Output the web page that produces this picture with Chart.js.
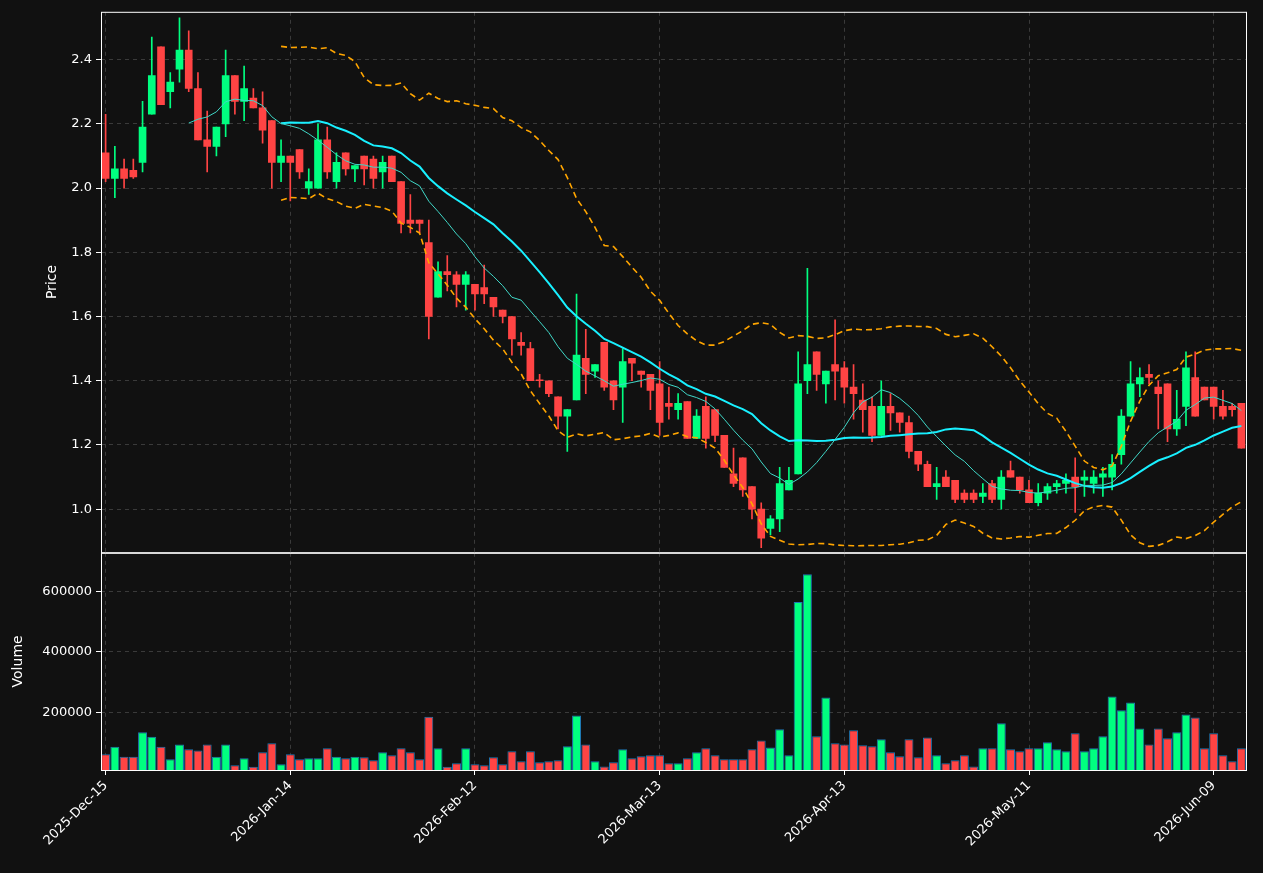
<!DOCTYPE html>
<html>
<head>
<meta charset="utf-8">
<script src="https://cdn.jsdelivr.net/npm/chart.js@4/dist/chart.umd.min.js"></script>
<style>
  html, body { margin: 0; background: #111111; }
  #wrap { position: relative; width: 1263px; height: 873px; }
  #priceBox { position: absolute; left: 0; top: 0; width: 1263px; height: 564px; }
  #volBox { position: absolute; left: 0; top: 541px; width: 1263px; height: 332px; }
</style>
</head>
<body>
<div id="wrap">
  <div id="priceBox"><canvas id="priceChart"></canvas></div>
  <div id="volBox"><canvas id="volChart"></canvas></div>
</div>
<script>
/* ================= DATA ================= */
const tickLabels = ['2025-Dec-15', '2026-Jan-14', '2026-Feb-12', '2026-Mar-13', '2026-Apr-13', '2026-May-11', '2026-Jun-09'];

const opens = [2.11,2.03,2.06,2.055,2.08,2.23,2.44,2.30,2.37,2.43, 2.31,2.15,2.13,2.20,2.35,2.27,2.28,2.25,2.21,2.08,
  2.10,2.12,2.00,2.00,2.15,2.02,2.11,2.06,2.10,2.09, 2.05,2.10,2.02,1.90,1.90,1.83,1.66,1.74,1.73,1.70,
  1.70,1.69,1.66,1.62,1.60,1.52,1.50,1.402,1.40,1.35, 1.29,1.34,1.47,1.43,1.52,1.40,1.38,1.47,1.43,1.42,
  1.39,1.33,1.31,1.335,1.22,1.32,1.31,1.23,1.11,1.16, 1.07,1.00,0.94,0.97,1.06,1.11,1.40,1.49,1.39,1.45,
  1.44,1.38,1.34,1.32,1.23,1.32,1.30,1.27,1.18,1.14, 1.07,1.10,1.09,1.05,1.05,1.04,1.08,1.03,1.12,1.10,
  1.06,1.02,1.05,1.07,1.08,1.10,1.09,1.08,1.10,1.10, 1.17,1.29,1.39,1.42,1.38,1.39,1.25,1.32,1.41,1.38,
  1.38,1.32,1.32,1.33];
const highs = [2.23,2.13,2.09,2.09,2.27,2.47,2.44,2.36,2.53,2.49, 2.36,2.24,2.19,2.43,2.35,2.38,2.31,2.30,2.21,2.15,
  2.10,2.12,2.06,2.20,2.19,2.11,2.11,2.07,2.10,2.10, 2.10,2.10,2.02,1.98,1.90,1.90,1.77,1.79,1.74,1.74,
  1.70,1.76,1.66,1.62,1.60,1.55,1.52,1.42,1.40,1.35, 1.31,1.67,1.56,1.45,1.52,1.40,1.50,1.47,1.43,1.42,
  1.46,1.38,1.36,1.335,1.31,1.35,1.31,1.23,1.19,1.16, 1.07,1.02,0.98,1.13,1.13,1.49,1.75,1.49,1.43,1.59,
  1.46,1.45,1.39,1.35,1.40,1.36,1.30,1.29,1.18,1.15, 1.13,1.12,1.09,1.06,1.06,1.08,1.09,1.12,1.15,1.10,
  1.09,1.08,1.08,1.09,1.11,1.16,1.12,1.12,1.13,1.17, 1.31,1.46,1.44,1.45,1.40,1.39,1.37,1.49,1.49,1.38,
  1.38,1.37,1.33,1.33];
const lows = [2.02,1.97,2.00,2.03,2.05,2.23,2.26,2.25,2.33,2.30, 2.15,2.05,2.10,2.16,2.23,2.21,2.25,2.14,2.00,2.02,
  1.96,2.03,1.98,2.00,2.03,2.00,2.04,2.02,2.01,2.00, 2.00,2.02,1.86,1.86,1.86,1.53,1.66,1.68,1.63,1.62,
  1.62,1.64,1.60,1.58,1.48,1.48,1.40,1.38,1.35,1.25, 1.18,1.34,1.36,1.41,1.37,1.31,1.27,1.40,1.38,1.31,
  1.23,1.28,1.28,1.22,1.22,1.19,1.21,1.13,1.07,1.04, 0.97,0.88,0.92,0.93,1.06,1.11,1.36,1.37,1.33,1.34,
  1.33,1.28,1.24,1.21,1.23,1.245,1.24,1.16,1.12,1.07, 1.03,1.07,1.02,1.02,1.02,1.02,1.02,1.00,1.10,1.05,
  1.02,1.01,1.03,1.05,1.05,0.99,1.04,1.05,1.04,1.06, 1.14,1.29,1.35,1.39,1.25,1.21,1.23,1.26,1.29,1.34,
  1.28,1.28,1.29,1.19];
const closes = [2.03,2.06,2.03,2.035,2.19,2.35,2.26,2.33,2.43,2.31, 2.15,2.13,2.19,2.35,2.27,2.31,2.25,2.18,2.08,2.10,
  2.08,2.05,2.02,2.15,2.05,2.08,2.06,2.07,2.06,2.03, 2.08,2.02,1.89,1.89,1.89,1.60,1.74,1.73,1.70,1.73,
  1.67,1.67,1.63,1.60,1.53,1.51,1.40,1.40,1.36,1.29, 1.31,1.48,1.42,1.45,1.38,1.34,1.46,1.455,1.42,1.37,
  1.27,1.32,1.33,1.22,1.29,1.22,1.23,1.13,1.08,1.06, 1.00,0.91,0.97,1.08,1.09,1.39,1.45,1.42,1.43,1.43,
  1.38,1.36,1.31,1.23,1.32,1.30,1.27,1.18,1.14,1.07, 1.08,1.07,1.03,1.03,1.03,1.05,1.03,1.10,1.10,1.06,
  1.02,1.05,1.07,1.08,1.09,1.07,1.10,1.10,1.11,1.14, 1.29,1.39,1.41,1.41,1.36,1.25,1.28,1.44,1.29,1.34,
  1.32,1.29,1.31,1.19];
const volumes = [60000,85000,52000,52000,133000,118000,85000,44000,93000,77000, 73000,93000,52000,93000,24000,47000,19000,67000,97000,27000,
  60000,44000,47000,47000,80000,52000,47000,52000,50000,40000, 67000,57000,80000,67000,44000,185000,80000,19000,30000,80000,
  27000,24000,50000,27000,70000,37000,70000,34000,37000,40000, 87000,189000,93000,37000,20000,34000,77000,47000,54000,57000,
  57000,30000,30000,47000,67000,80000,57000,44000,44000,44000, 77000,106000,83000,143000,57000,566000,658000,120000,249000,97000,
  93000,140000,90000,87000,110000,67000,54000,110000,50000,116000, 57000,30000,40000,57000,20000,80000,80000,163000,77000,70000,
  80000,80000,100000,77000,70000,130000,70000,80000,120000,252000, 206000,232000,146000,93000,146000,113000,133000,192000,182000,80000,
  130000,57000,37000,80000];

/* ================= DERIVED ================= */
const idx = closes.map((_, i) => i);
const UP = '#00ff80';
const DOWN = '#ff4444';
const colors = closes.map((c, i) => c >= opens[i] ? UP : DOWN);

const rolling = (n, fn) => closes.map((_, i) => {
  if (i < n - 1) return null;
  return fn(closes.slice(i - n + 1, i + 1));
});
const mean = a => a.reduce((s, v) => s + v, 0) / a.length;
const std = a => { const m = mean(a); return Math.sqrt(a.reduce((s, v) => s + (v - m) ** 2, 0) / a.length); };
const ma10 = rolling(10, mean);
const ma20 = rolling(20, mean);
const bbUp = rolling(20, a => mean(a) + 2 * std(a));
const bbLo = rolling(20, a => mean(a) - 2 * std(a));

/* ================= SHARED OPTIONS ================= */
Chart.defaults.font.family = 'DejaVu Sans';
Chart.defaults.font.size = 13;
Chart.defaults.color = '#ffffff';

const frame = {
  id: 'frame',
  afterDraw(chart) {
    const { ctx, chartArea: a } = chart;
    ctx.save();
    ctx.strokeStyle = '#ffffff';
    ctx.lineWidth = 1;
    ctx.strokeRect(a.left + 0.5, a.top + 0.5, a.right - a.left, a.bottom - a.top);
    ctx.fillStyle = '#ffffff';
    ctx.font = '14px DejaVu Sans';
    ctx.translate(chart.options.plugins.frame.titleX, (a.top + a.bottom) / 2);
    ctx.rotate(-Math.PI / 2);
    ctx.textAlign = 'center';
    ctx.textBaseline = 'middle';
    ctx.fillText(chart.options.plugins.frame.title, 0, 0);
    ctx.restore();
  }
};

const gridStyle = { color: '#3a3a3a', tickColor: '#ffffff', tickLength: 5, lineWidth: 1, offset: false };
const borderStyle = { display: false, dash: [4, 4] };
const showTick = i => (i % 20 === 0 ? tickLabels[i / 20] : null);

/* ================= PRICE CHART ================= */
new Chart(document.getElementById('priceChart'), {
  type: 'bar',
  data: {
    labels: idx,
    datasets: [
      { type: 'line', data: ma10, borderColor: '#40d8c8', borderWidth: 1, pointRadius: 0, order: 0 },
      { type: 'line', data: ma20, borderColor: '#18f0ff', borderWidth: 2, pointRadius: 0, order: 0 },
      { type: 'line', data: bbUp, borderColor: '#ffa500', borderWidth: 1.6, borderDash: [6, 4], pointRadius: 0, order: 0 },
      { type: 'line', data: bbLo, borderColor: '#ffa500', borderWidth: 1.6, borderDash: [6, 4], pointRadius: 0, order: 0 },
      { data: idx.map(i => [lows[i], highs[i]]), backgroundColor: colors, barThickness: 1, grouped: false, order: 2 },
      { data: idx.map(i => [opens[i], closes[i]]), backgroundColor: colors, barThickness: 7, minBarLength: 1, grouped: false, order: 1 }
    ]
  },
  options: {
    responsive: true, maintainAspectRatio: false, animation: false,
    layout: { padding: { top: 10, right: 17, bottom: 0, left: 0 } },
    plugins: { legend: { display: false }, tooltip: { enabled: false }, frame: { title: 'Price', titleX: 52 } },
    scales: {
      x: {
        offset: true,
        grid: { ...gridStyle, drawTicks: false },
        border: borderStyle,
        ticks: { autoSkip: false, maxRotation: 0, color: 'transparent', callback: (v, i) => showTick(i) },
        afterFit: s => { s.height = 0; }
      },
      y: {
        min: 0.866, max: 2.549,
        grid: gridStyle,
        border: borderStyle,
        afterBuildTicks: s => { s.ticks = [1.0, 1.2, 1.4, 1.6, 1.8, 2.0, 2.2, 2.4].map(v => ({ value: v })); },
        ticks: { callback: v => v.toFixed(1), padding: 4 },
        afterFit: s => { s.width = 101; }
      }
    }
  },
  plugins: [frame]
});

/* ================= VOLUME CHART ================= */
new Chart(document.getElementById('volChart'), {
  type: 'bar',
  data: {
    labels: idx,
    datasets: [{
      data: volumes, backgroundColor: colors, borderColor: '#1f77b4', borderWidth: 1,
      categoryPercentage: 1, barPercentage: 0.97
    }]
  },
  options: {
    responsive: true, maintainAspectRatio: false, animation: false,
    layout: { padding: { top: 0, right: 17, bottom: 0, left: 0 } },
    plugins: { legend: { display: false }, tooltip: { enabled: false }, frame: { title: 'Volume', titleX: 18 } },
    scales: {
      x: {
        offset: true,
        grid: gridStyle,
        border: borderStyle,
        ticks: { autoSkip: false, minRotation: 45, maxRotation: 45, callback: (v, i) => showTick(i) },
        afterFit: s => { s.height = 103; }
      },
      y: {
        min: 8000, max: 729000,
        grid: gridStyle,
        border: borderStyle,
        afterBuildTicks: s => { s.ticks = [200000, 400000, 600000].map(v => ({ value: v })); },
        ticks: { callback: v => String(v), padding: 4 },
        afterFit: s => { s.width = 101; }
      }
    }
  },
  plugins: [frame]
});
</script>
</body>
</html>
